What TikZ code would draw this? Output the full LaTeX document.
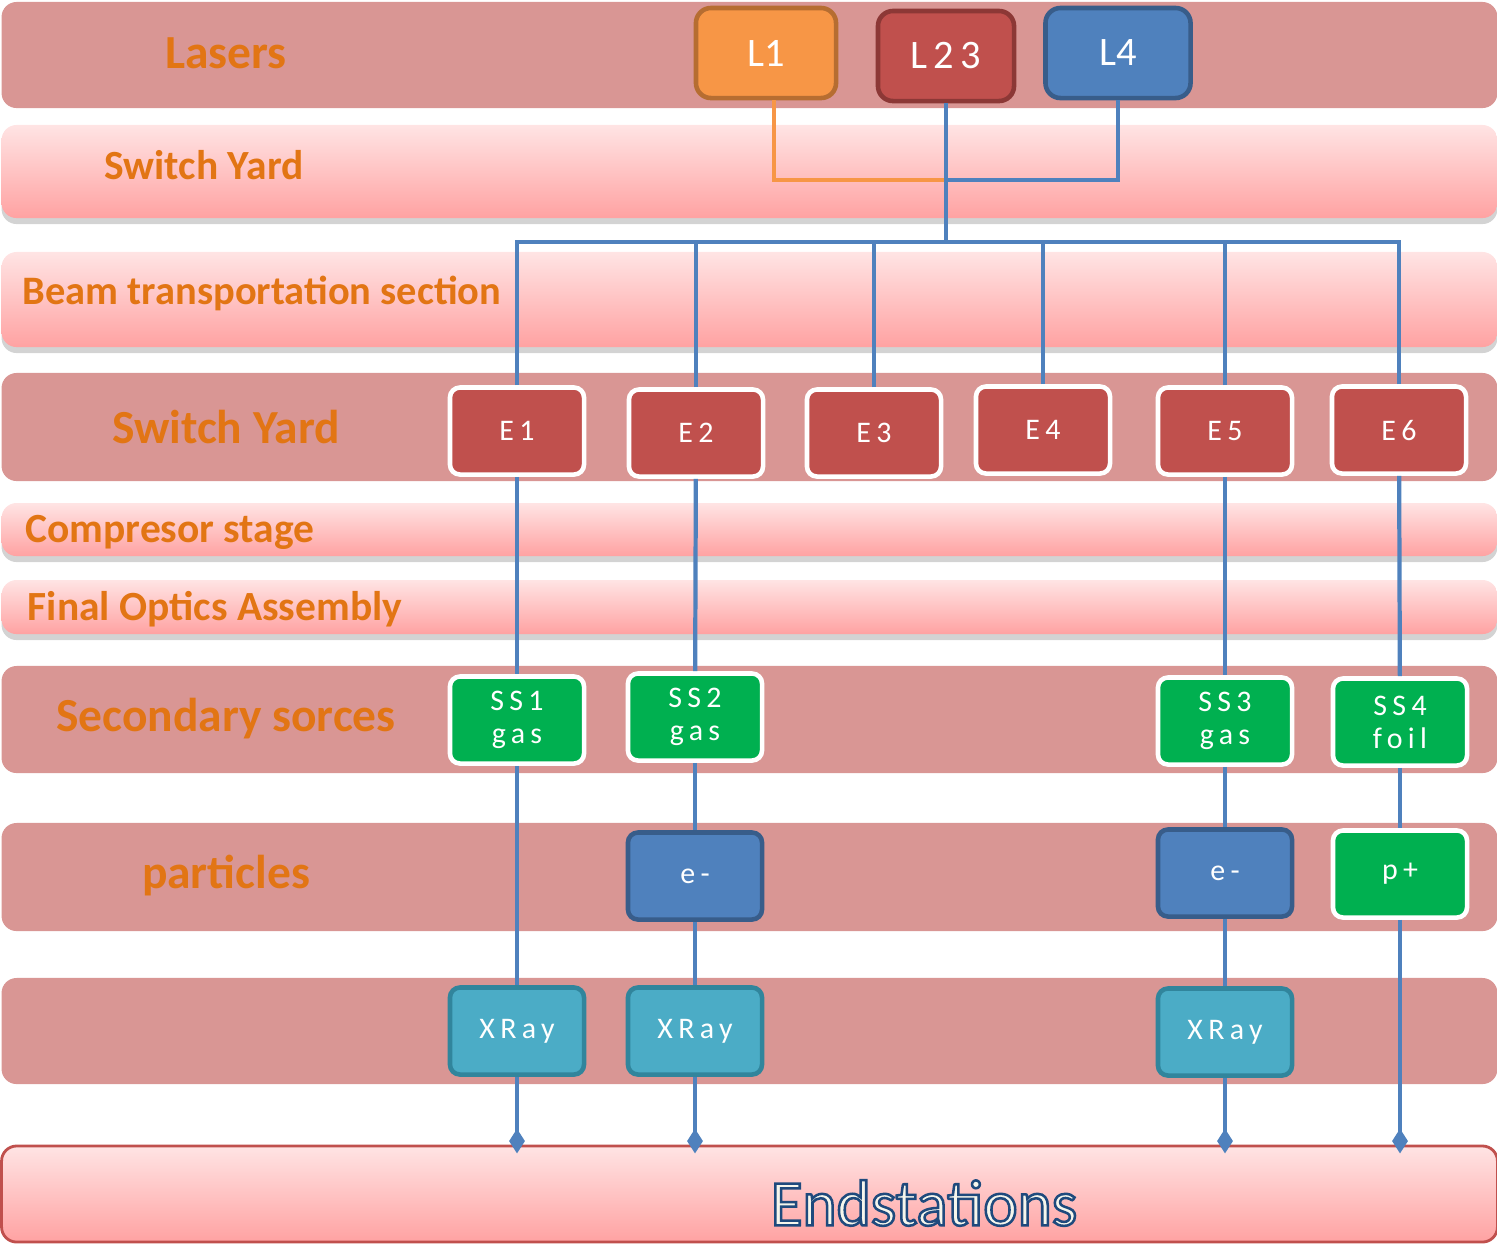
\documentclass[tikz,border=0pt]{standalone}
\usepackage{fontspec}
\setmainfont{Carlito}
\usepackage{tikz}
\usetikzlibrary{arrows.meta, shadows, backgrounds}
\usepackage{xcolor}
\definecolor{bandrose}{RGB}{217, 150, 148}
\definecolor{bandtop}{RGB}{255, 228, 228}
\definecolor{bandbottom}{RGB}{255, 162, 162}
\definecolor{labelorange}{RGB}{226, 117, 20}
\definecolor{laserorange}{RGB}{247, 150, 70}
\definecolor{laserorangedark}{RGB}{182, 109, 49}
\definecolor{accentred}{RGB}{192, 80, 77}
\definecolor{accentreddark}{RGB}{140, 56, 54}
\definecolor{accentblue}{RGB}{79, 129, 189}
\definecolor{accentbluedark}{RGB}{56, 93, 138}
\definecolor{sourcegreen}{RGB}{0, 176, 80}
\definecolor{xrayteal}{RGB}{75, 172, 198}
\definecolor{xraytealdark}{RGB}{49, 133, 156}
\definecolor{endborder}{RGB}{192, 80, 77}
\definecolor{endcream}{RGB}{246, 246, 236}
% outlined text: navy stroke round a cream fill
\newcommand{\outlinedtext}[1]{%
    \special{pdf:literal direct 0.12 0.29 0.49 RG 0.72 w 2 Tr}#1\special{pdf:literal direct 0 Tr}}
\tikzset{
    band/.style={
        rectangle,
        rounded corners=1.5mm,
        minimum width=14.95cm,
        inner sep=0pt
    },
    solid band/.style={
        band,
        fill=bandrose
    },
    glow band/.style={
        band,
        top color=bandtop,
        bottom color=bandbottom,
        drop shadow={shadow xshift=0pt, shadow yshift=-0.6mm, opacity=0.35}
    },
    row label/.style={
        font=\bfseries\fontsize{13.5}{16}\selectfont,
        text=labelorange
    },
    small label/.style={
        font=\bfseries\fontsize{11.8}{14}\selectfont,
        text=labelorange
    },
    box/.style={
        rectangle,
        rounded corners=1mm,
        minimum width=1.34cm,
        minimum height=0.87cm,
        inner sep=0pt,
        align=center,
        text=white,
        line width=1.3pt,
        font=\fontsize{8.5}{9.4}\selectfont\addfontfeature{LetterSpace=18}
    },
    laser box/.style={
        box,
        rounded corners=1.5mm,
        minimum width=1.4cm,
        minimum height=0.9cm,
        font=\fontsize{11.5}{14}\selectfont
    },
    stage box/.style={
        box,
        fill=accentred,
        draw=white
    },
    source box/.style={
        box,
        fill=sourcegreen,
        draw=white
    },
    electron box/.style={
        box,
        fill=accentblue,
        draw=accentbluedark
    },
    xray box/.style={
        box,
        fill=xrayteal,
        draw=xraytealdark
    },
    beam/.style={
        draw=accentblue,
        line width=1.2pt
    },
    beam end/.style={
        beam,
        shorten >=-2.5pt,
        -{Diamond[width=4.5pt, length=7pt]}
    }
}

\begin{document}
\begin{tikzpicture}[x=0.01cm, y=-0.01cm]

\useasboundingbox (0, 0) rectangle (1497, 1244);

% === BANDS ===
\node[solid band, minimum height=1.06cm] (lasersband) at (749.5, 55) {};
\node[glow band, minimum height=0.93cm] (yardband) at (749.5, 171.5) {};
\node[glow band, minimum height=0.95cm] (beamband) at (749.5, 299.5) {};
\node[solid band, minimum height=1.08cm] (stageband) at (749.5, 427) {};
\node[glow band, minimum height=0.53cm] (comprband) at (749.5, 529.5) {};
\node[glow band, minimum height=0.54cm] (opticsband) at (749.5, 607) {};
\node[solid band, minimum height=1.07cm] (sourceband) at (749.5, 719.5) {};
\node[solid band, minimum height=1.08cm] (particleband) at (749.5, 877) {};
\node[solid band, minimum height=1.06cm] (xrayband) at (749.5, 1031) {};
\node[band, minimum height=0.96cm, top color=bandtop, bottom color=bandbottom,
      draw=endborder, line width=0.8pt] (endst) at (749.5, 1194) {};

% === ROW LABELS ===
\node[row label] (laserslabel) at (226, 53) {Lasers};
\node[small label] (yardlabel) at (204, 165) {Switch Yard};
\node[small label, font=\bfseries\fontsize{11.5}{14}\selectfont] (beamlabel) at (262, 293) {Beam transportation section};
\node[row label] (stagelabel) at (226, 427) {Switch Yard};
\node[small label] (comprlabel) at (170, 532) {Compresor stage};
\node[small label] (opticslabel) at (215, 609) {Final Optics Assembly};
\node[row label] (sourcelabel) at (226, 719) {Secondary sorces};
\node[row label] (particlelabel) at (226, 876) {particles};
\node[font=\fontsize{18.5}{22}\selectfont, text=endcream] (endlabel) at (924, 1203)
    {\outlinedtext{Endstations}};

% === LASERS ===
\node[laser box, fill=laserorange, draw=laserorangedark] (l1) at (766, 53) {L1};
\node[laser box, fill=accentred, draw=accentreddark, minimum width=1.36cm,
      font=\fontsize{11.5}{14}\selectfont\addfontfeature{LetterSpace=15}] (l23) at (946, 56) {L23};
\node[laser box, fill=accentblue, draw=accentbluedark, minimum width=1.45cm] (l4) at (1118, 53) {L4};

% === SWITCH YARD OUTPUTS ===
\node[stage box] (e1) at (517, 431) {E1};
\node[stage box] (e2) at (696, 433) {E2};
\node[stage box] (e3) at (874, 433) {E3};
\node[stage box] (e4) at (1043, 430) {E4};
\node[stage box] (e5) at (1225, 431) {E5};
\node[stage box] (e6) at (1399, 430) {E6};

% === SECONDARY SOURCES ===
\node[source box] (ss1) at (517, 720) {SS1\\gas};
\node[source box] (ss2) at (695, 717) {SS2\\gas};
\node[source box] (ss3) at (1225, 721) {SS3\\gas};
\node[source box] (ss4) at (1400, 722) {SS4\\foil};

% === PARTICLES ===
\node[electron box] (em1) at (695, 876) {e-};
\node[electron box] (em2) at (1225, 873) {e-};
\node[source box] (pplus) at (1400, 874) {p+};

% === XRAYS ===
\node[xray box] (xray1) at (517, 1031) {XRay};
\node[xray box] (xray2) at (695, 1031) {XRay};
\node[xray box] (xray3) at (1225, 1032) {XRay};

% === CONNECTORS ===
\coordinate (merge) at (946, 180);
\coordinate (bus) at (946, 242);

\draw[beam, draw=laserorange] ([xshift=0.08cm]l1.south) |- (merge);
\draw[beam] (l4.south) |- (merge);
\draw[beam] (l23.south) -- (bus);
\foreach \e in {e1, e2, e3, e4, e5, e6}
    \draw[beam] (\e.north) |- (bus);

% E -> secondary source -> particle -> xray
\draw[beam] (e1) -- (ss1);
\draw[beam] (e2) -- (ss2);
\draw[beam] (e5) -- (ss3);
\draw[beam] (e6) -- (ss4);
\draw[beam] (ss1) -- (xray1);
\draw[beam] (ss2) -- (em1);
\draw[beam] (em1) -- (xray2);
\draw[beam] (ss3) -- (em2);
\draw[beam] (em2) -- (xray3);
\draw[beam] (ss4) -- (pplus);

% to the endstations
\foreach \s in {xray1, xray2, xray3, pplus}
    \draw[beam end] (\s) -- (\s |- endst.north);

\end{tikzpicture}
\end{document}
